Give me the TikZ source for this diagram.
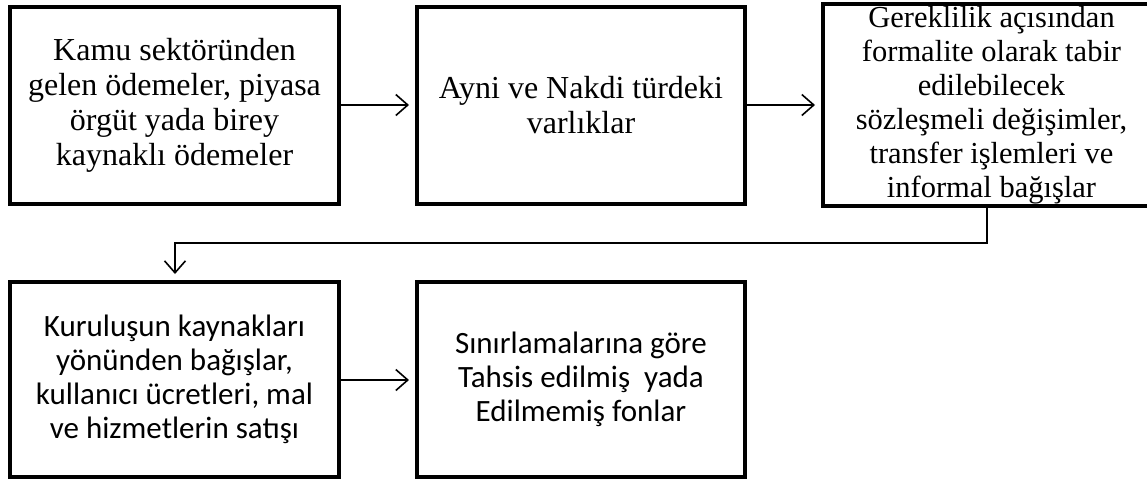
\documentclass[tikz,border=0pt]{standalone}
\usepackage{fontspec}
\setmainfont{Liberation Serif}
\newfontfamily\calib{Carlito}
\usetikzlibrary{arrows.meta}
\tikzset{
  box/.style={draw=black, line width=4pt, rectangle, align=center, inner sep=2pt},
  serifbox/.style={box, font=\fontsize{32}{35}\selectfont},
  smallserifbox/.style={box, font=\fontsize{30.5}{34}\selectfont},
  sansbox/.style={box, font=\calib\fontsize{31}{34}\selectfont},
  arr/.style={draw=black, line width=1.6pt, -{Straight Barb[length=12pt,width=21pt,line width=1.6pt]}, shorten >=6pt}
}
\begin{document}
\begin{tikzpicture}[x=1pt,y=-1pt]
\useasboundingbox (0,0) rectangle (1147,483);
\clip (0,0) rectangle (1147,483);
\fill[white] (0,0) rectangle (1147,483);
\node[serifbox, minimum width=329pt, minimum height=197pt] (b1) at (174.5,105.5)
  {Kamu sektöründen\\gelen ödemeler, piyasa\\örgüt yada birey\\kaynaklı ödemeler};
\node[serifbox, minimum width=328pt, minimum height=197pt] (b2) at (581,105.5)
  {Ayni ve Nakdi türdeki\\varlıklar};
\node[smallserifbox, minimum width=337pt, minimum height=197pt] (b3) at (991.5,105)
  {Gereklilik açısından\\formalite olarak tabir\\edilebilecek\\sözleşmeli değişimler,\\transfer işlemleri ve\\informal bağışlar};
\node[sansbox, minimum width=329pt, minimum height=195pt] (b4) at (174.5,379.5)
  {Kuruluşun kaynakları\\yönünden bağışlar,\\kullanıcı ücretleri, mal\\ve hizmetlerin satışı};
\node[sansbox, minimum width=328pt, minimum height=195pt] (b5) at (581,379.5)
  {Sınırlamalarına göre\\Tahsis edilmiş~ yada\\Edilmemiş fonlar};
\coordinate (c1) at (987,243);
\coordinate (c2) at (175,243);
\draw[arr] (b1.east |- 0,105) -- (b2.west |- 0,105);
\draw[arr] (b2.east |- 0,105) -- (b3.west |- 0,105);
\draw[arr] (b3.south -| c1) -- (c1) -- (c2) -- (b4.north -| c2);
\draw[arr] (b4.east |- 0,380) -- (b5.west |- 0,380);
\end{tikzpicture}
\end{document}
